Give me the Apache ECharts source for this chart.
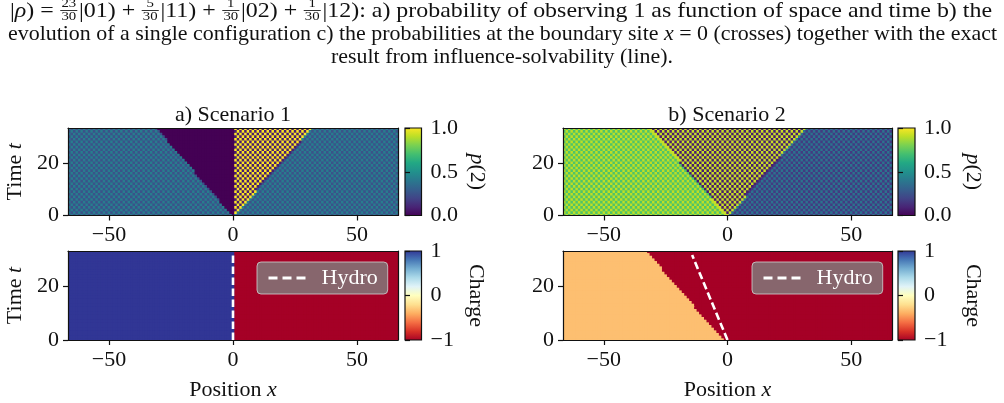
<!DOCTYPE html>
<html>
<head>
<meta charset="utf-8">
<script src="https://cdn.jsdelivr.net/npm/echarts@6/dist/echarts.min.js"></script>
<style>
  html, body { margin: 0; background: #fff; }
  #chart { width: 1004px; height: 403px; }
</style>
</head>
<body>
<div id="chart"></div>
<script>
// ---- data ----
const xCells = [-66, 66]          // lattice sites
const rowCount = 34               // time rows
const xLimits = [-66.5, 66.5]
const tLimits = [0, 33.4]
const xTicks = [-50, 0, 50]
const tTicks = [0, 20]
const pTicks = [0, 0.5, 1]
const chargeTicks = [-1, 0, 1]

// fronts: [x at t=0, x at top of plot]; levels: checkerboard value pair per region (left to right)
const s1ProbFronts = [[0, -30.5], [0, 0], [0, 31.7]]
const s1ProbLevels = [[0.25, 0.42], [0.0, 0.0], [1.0, 0.08], [0.25, 0.42]]
const s2ProbFronts = [[0, -31.0], [0, 31.2]]
const s2ProbLevels = [[0.72, 0.9], [0.92, 0.08], [0.17, 0.38]]
const s1ChargeFronts = [[0, 0]]
const s1ChargeLevels = [[1, 1], [-1, -1]]
const s2ChargeFronts = [[-1.5, -32.4]]
const s2ChargeLevels = [[-0.33, -0.33], [-1, -1]]

const hydro1 = [[0, 0], [0, 33.4]]
const hydro2 = [[0, 0], [-14.3, 31.9]]

// ---- colour maps ----
const viridis = ['#440154', '#482475', '#414487', '#355f8d', '#2a788e', '#21918c', '#22a884', '#44bf70', '#7ad151', '#bddf26', '#fde725']
const rdylbu = ['#a50026', '#d73027', '#f46d43', '#fdae61', '#fee090', '#ffffbf', '#e0f3f8', '#abd9e9', '#74add1', '#4575b4', '#313695']

const hexRgb = (h) => [1, 3, 5].map((i) => parseInt(h.slice(i, i + 2), 16))
const colorCache = {}
function colorAt(stops, lo, hi, v) {
  const key = stops[0] + v
  if (colorCache[key]) return colorCache[key]
  const f = Math.max(0, Math.min(1, (v - lo) / (hi - lo))) * (stops.length - 1)
  const i = Math.min(Math.floor(f), stops.length - 2)
  const u = f - i
  const a = hexRgb(stops[i])
  const b = hexRgb(stops[i + 1])
  const c = 'rgb(' + a.map((ch, k) => Math.round(ch + (b[k] - ch) * u)).join(',') + ')'
  colorCache[key] = c
  return c
}

// ---- cells from the region description ----
function buildCells(fronts, levels) {
  const out = []
  for (let r = 0; r < rowCount; r++) {
    const t = r + 0.5
    for (let x = xCells[0]; x <= xCells[1]; x++) {
      let k = 0
      fronts.forEach(([x0, x1]) => {
        if (x0 + (x1 - x0) * t / tLimits[1] < x) k++
      })
      const parity = ((x + r) % 2 + 2) % 2
      out.push([x, r, levels[k][parity]])
    }
  }
  return out
}

const serif = 'Liberation Serif'
const ink = '#111'
const fs = 22
const minus = (v) => (v < 0 ? '\u2212' + (-v) : String(v))
const italic = { i: { fontStyle: 'italic', fontFamily: serif, fontSize: fs, color: ink } }

const panels = [
  { grid: { left: 68, top: 128, width: 330, height: 87.5 }, cb: { left: 405, top: 128, width: 16.5, height: 87.5 },
    cells: buildCells(s1ProbFronts, s1ProbLevels), cmap: viridis, range: [0, 1], ticks: pTicks,
    fmt: (v) => v.toFixed(1), cbName: '{i|p}(2)', cbGap: 44, xName: false, yName: true },
  { grid: { left: 68, top: 251, width: 330, height: 89 }, cb: { left: 405, top: 251, width: 16.5, height: 89 },
    cells: buildCells(s1ChargeFronts, s1ChargeLevels), cmap: rdylbu, range: [-1, 1], ticks: chargeTicks,
    fmt: minus, cbName: 'Charge', cbGap: 43, xName: true, yName: true, hydro: hydro1 },
  { grid: { left: 563, top: 128, width: 329, height: 87.5 }, cb: { left: 898, top: 128, width: 17, height: 87.5 },
    cells: buildCells(s2ProbFronts, s2ProbLevels), cmap: viridis, range: [0, 1], ticks: pTicks,
    fmt: (v) => v.toFixed(1), cbName: '{i|p}(2)', cbGap: 47, xName: false, yName: false },
  { grid: { left: 563, top: 251, width: 329, height: 89 }, cb: { left: 898, top: 251, width: 17, height: 89 },
    cells: buildCells(s2ChargeFronts, s2ChargeLevels), cmap: rdylbu, range: [-1, 1], ticks: chargeTicks,
    fmt: minus, cbName: 'Charge', cbGap: 47, xName: true, yName: false, hydro: hydro2 },
]

const grids = []
const xAxes = []
const yAxes = []
const series = []
const lineSt = { color: ink, width: 1.2 }

function frameAxis(gridIndex, position, min, max) {
  return {
    type: 'value', gridIndex, position, min, max, z: 10,
    axisLine: { show: true, onZero: false, lineStyle: lineSt },
    axisTick: { show: false }, axisLabel: { show: false }, splitLine: { show: false },
  }
}

panels.forEach((p) => {
  // main heat map
  const g = grids.length
  grids.push(p.grid)
  const xi = xAxes.length
  const yi = yAxes.length
  xAxes.push({
    type: 'value', gridIndex: g, min: xLimits[0], max: xLimits[1], z: 10,
    axisLine: { show: true, onZero: false, lineStyle: lineSt },
    axisTick: { show: true, customValues: xTicks, length: 5, lineStyle: lineSt },
    axisLabel: { customValues: xTicks, formatter: minus, margin: 9, fontFamily: serif, fontSize: fs, color: ink },
    splitLine: { show: false },
    name: p.xName ? 'Position {i|x}' : '', nameLocation: 'middle', nameGap: 39,
    nameTextStyle: { fontFamily: serif, fontSize: fs, color: ink, rich: italic },
  })
  xAxes.push(frameAxis(g, 'top', xLimits[0], xLimits[1]))
  yAxes.push({
    type: 'value', gridIndex: g, min: tLimits[0], max: tLimits[1], z: 10,
    axisLine: { show: true, onZero: false, lineStyle: lineSt },
    axisTick: { show: true, customValues: tTicks, length: 5, lineStyle: lineSt },
    axisLabel: { customValues: tTicks, margin: 9, fontFamily: serif, fontSize: fs, color: ink },
    splitLine: { show: false },
    name: p.yName ? 'Time {i|t}' : '', nameLocation: 'middle', nameGap: 42, nameRotate: 90,
    nameTextStyle: { fontFamily: serif, fontSize: fs, color: ink, rich: italic },
  })
  yAxes.push(frameAxis(g, 'right', tLimits[0], tLimits[1]))

  const cmap = p.cmap
  const range = p.range
  series.push({
    type: 'custom', xAxisIndex: xi, yAxisIndex: yi, data: p.cells, clip: true, silent: true,
    progressive: 0, z: 1,
    renderItem: (params, api) => {
      const x = api.value(0)
      const r = api.value(1)
      const p0 = api.coord([x - 0.5, r])
      const p1 = api.coord([x + 0.5, r + 1])
      return {
        type: 'rect',
        shape: { x: p0[0], y: p1[1], width: p1[0] - p0[0] + 1, height: p0[1] - p1[1] + 1 },
        style: { fill: colorAt(cmap, range[0], range[1], api.value(2)) },
      }
    },
  })

  if (p.hydro) {
    series.push({
      type: 'line', name: 'Hydro', xAxisIndex: xi, yAxisIndex: yi, data: p.hydro,
      symbol: 'none', z: 5, silent: true,
      lineStyle: { color: '#fff', width: 2.6, type: [7.5, 3.5] },
      itemStyle: { color: '#fff' },
    })
  }

  // colour bar
  const cg = grids.length
  grids.push(p.cb)
  const cxi = xAxes.length
  const cyi = yAxes.length
  xAxes.push({ type: 'value', gridIndex: cg, min: 0, max: 1, show: false })
  yAxes.push({
    type: 'value', gridIndex: cg, position: 'right', min: range[0], max: range[1], z: 10,
    axisLine: { show: false },
    axisTick: { show: true, customValues: p.ticks, length: 5, lineStyle: lineSt },
    axisLabel: { customValues: p.ticks, formatter: p.fmt, margin: 9, fontFamily: serif, fontSize: fs, color: ink },
    splitLine: { show: false },
    name: p.cbName, nameLocation: 'middle', nameGap: p.cbGap, nameRotate: -90,
    nameTextStyle: { fontFamily: serif, fontSize: fs, color: ink, rich: { i: { fontStyle: 'italic', fontFamily: serif, fontSize: fs, color: ink } } },
  })
  const stops = cmap.map((c, i) => ({ offset: i / (cmap.length - 1), color: c }))
  series.push({
    type: 'custom', xAxisIndex: cxi, yAxisIndex: cyi, data: [[range[0], range[1]]], silent: true, z: 3,
    renderItem: (params, api) => {
      const p0 = api.coord([0, api.value(0)])
      const p1 = api.coord([1, api.value(1)])
      return {
        type: 'rect',
        shape: { x: p0[0], y: p1[1], width: p1[0] - p0[0], height: p0[1] - p1[1] },
        style: { fill: new echarts.graphic.LinearGradient(0, 1, 0, 0, stops), stroke: ink, lineWidth: 1.2 },
      }
    },
  })
})

// ---- caption above the figure ----
const ctx = document.createElement('canvas').getContext('2d')
const capSize = 21
const fracSize = 13
function measure(text, size, it) {
  ctx.font = (it ? 'italic ' : '') + size + 'px "' + serif + '"'
  return ctx.measureText(text).width
}
const captionLine1 = [
  { s: '|' }, { s: 'ρ', it: true }, { s: ') = ' }, { num: '23', den: '30' }, { s: '|01) + ' },
  { num: '5', den: '30' }, { s: '|11) + ' }, { num: '1', den: '30' }, { s: '|02) + ' },
  { num: '1', den: '30' }, { s: '|12): a) probability of observing 1 as function of space and time b) the' },
]
const captionLine2 = [
  { s: 'evolution of a single configuration c) the probabilities at the boundary site ' }, { s: 'x', it: true },
  { s: ' = 0 (crosses) together with the exact' },
]
const captionLine3 = [{ s: 'result from influence-solvability (line).' }]

function layoutLine(tokens, cy) {
  const children = []
  let x = 0
  tokens.forEach((tk) => {
    if (tk.num) {
      const w = Math.max(measure(tk.num, fracSize), measure(tk.den, fracSize)) + 3
      children.push({ type: 'text', x: x + w / 2, y: cy - 7, style: { text: tk.num, font: fracSize + 'px "' + serif + '"', fill: ink, align: 'center', verticalAlign: 'middle' } })
      children.push({ type: 'text', x: x + w / 2, y: cy + 6, style: { text: tk.den, font: fracSize + 'px "' + serif + '"', fill: ink, align: 'center', verticalAlign: 'middle' } })
      children.push({ type: 'line', shape: { x1: x + 0.5, y1: cy - 0.5, x2: x + w - 0.5, y2: cy - 0.5 }, style: { stroke: ink, lineWidth: 0.8 } })
      x += w + 1
    } else {
      const w = measure(tk.s, capSize, tk.it)
      children.push({ type: 'text', x, y: cy, style: { text: tk.s, font: (tk.it ? 'italic ' : '') + capSize + 'px "' + serif + '"', fill: ink, align: 'left', verticalAlign: 'middle' } })
      x += w
    }
  })
  return { children, width: x }
}

const l1 = layoutLine(captionLine1, 11)
const l2 = layoutLine(captionLine2, 34)
const l3 = layoutLine(captionLine3, 57)
const s1 = 982 / l1.width
const s2 = 989 / l2.width

const graphic = [
  { type: 'group', x: 10, y: 0, scaleX: s1, children: l1.children },
  { type: 'group', x: 8, y: 0, scaleX: s2, children: l2.children },
  { type: 'group', x: 502 - (l3.width * s2) / 2, y: 0, scaleX: s2, children: l3.children },
  { type: 'text', x: 233, y: 115, style: { text: 'a) Scenario 1', font: fs + 'px "' + serif + '"', fill: ink, align: 'center', verticalAlign: 'middle' } },
  { type: 'text', x: 727, y: 115, style: { text: 'b) Scenario 2', font: fs + 'px "' + serif + '"', fill: ink, align: 'center', verticalAlign: 'middle' } },
]

const legendBase = {
  data: ['Hydro'], selectedMode: false, orient: 'horizontal', top: 262,
  itemWidth: 38, itemHeight: 14, padding: [5, 10, 5, 10],
  itemStyle: { opacity: 0 },
  lineStyle: { width: 3, type: [9, 5] },
  backgroundColor: 'rgba(128,128,128,0.8)', borderColor: 'rgba(210,210,210,0.8)', borderWidth: 1, borderRadius: 4,
  textStyle: { color: '#fff', fontFamily: serif, fontSize: fs, padding: [0, 0, 0, 10] },
}

const chart = echarts.init(document.getElementById('chart'), null, { renderer: 'canvas' })
chart.setOption({
  animation: false,
  grid: grids,
  xAxis: xAxes,
  yAxis: yAxes,
  legend: [
    Object.assign({}, legendBase, { left: 257 }),
    Object.assign({}, legendBase, { left: 752 }),
  ],
  graphic,
  series,
})
</script>
</body>
</html>
